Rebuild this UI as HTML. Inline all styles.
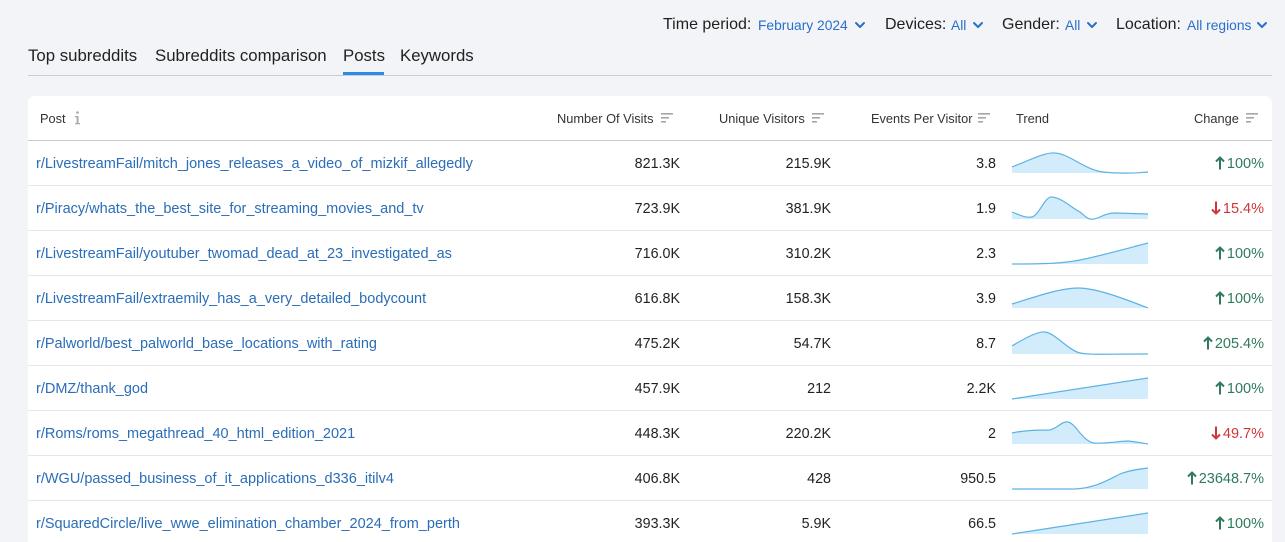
<!DOCTYPE html>
<html><head><meta charset="utf-8">
<style>
*{margin:0;padding:0;box-sizing:border-box}
html,body{width:1285px;height:542px;overflow:hidden;background:#f3f4f8;font-family:"Liberation Sans",Arial,sans-serif;color:#222;position:relative}
.a{position:absolute;white-space:nowrap}
.f{font-size:16px;color:#1f1f1f;top:16px}
.v{font-size:13.8px;color:#2a6fc9;top:18px}
.tab{font-size:16.8px;color:#222;top:46px}
.card{position:absolute;left:28px;top:96px;width:1244px;height:446px;background:#fff;border-radius:7px 7px 0 0}
.h{font-size:12.8px;color:#333;top:111px}
.sep{position:absolute;left:28px;width:1244px;height:1px;background:#e4e6ea}
.lk{font-size:14.5px;color:#2a6db8;left:36px}
.n{font-size:14.3px;color:#222;text-align:right}
.up{color:#2f7a5b;font-size:14.5px;text-align:right}
.dn{color:#d0353a;font-size:14.5px;text-align:right}
.up svg,.dn svg{display:inline-block;vertical-align:-2px;margin-right:2px}
</style></head><body>
<!-- filters -->
<div class="a f" style="left:663px">Time period:</div>
<div class="a v" style="left:758px">February 2024</div>
<div class="a f" style="left:885px">Devices:</div>
<div class="a v" style="left:951px">All</div>
<div class="a f" style="left:1002px">Gender:</div>
<div class="a v" style="left:1065px">All</div>
<div class="a f" style="left:1116px">Location:</div>
<div class="a v" style="left:1187px">All regions</div>
<svg class="a" style="left:0;top:0" width="1285" height="100">
<g fill="none" stroke="#2a6fc9" stroke-width="2" stroke-linecap="round" stroke-linejoin="round">
<path d="M856 23 L860 27 L864 23"/>
<path d="M974 23 L978 27 L982 23"/>
<path d="M1088 23 L1092 27 L1096 23"/>
<path d="M1258 23 L1262 27 L1266 23"/>
</g>
<rect x="28" y="75" width="1244" height="1" fill="#c9ccd4"/>
<rect x="343" y="72" width="41" height="3" fill="#2b8ae2"/>
</svg>
<div class="a tab" style="left:28px">Top subreddits</div>
<div class="a tab" style="left:155px">Subreddits comparison</div>
<div class="a tab" style="left:343px">Posts</div>
<div class="a tab" style="left:400px">Keywords</div>

<div class="card"></div>
<div class="a h" style="left:40px">Post</div>
<svg class="a" style="left:72px;top:110px" width="10" height="16">
<g fill="#a8a8a8"><circle cx="5.5" cy="2.5" r="1.3"/><path d="M3 6 L6.5 6 L6.5 13 L8 13 L8 14.3 L3 14.3 L3 13 L4.6 13 L4.6 7.3 L3 7.3 Z"/></g>
</svg>
<div class="a h" style="left:557px">Number Of Visits</div>
<div class="a h" style="left:719px">Unique Visitors</div>
<div class="a h" style="left:871px">Events Per Visitor</div>
<div class="a h" style="left:1016px">Trend</div>
<div class="a h" style="left:1194px">Change</div>
<div class="sep" style="top:140px;background:#c6c8cc"></div>
<div class="sep" style="top:185px"></div>
<div class="sep" style="top:230px"></div>
<div class="sep" style="top:275px"></div>
<div class="sep" style="top:320px"></div>
<div class="sep" style="top:365px"></div>
<div class="sep" style="top:410px"></div>
<div class="sep" style="top:455px"></div>
<div class="sep" style="top:500px"></div>

<svg class="a" style="left:0;top:0" width="1285" height="542">
<g fill="#a6a6a6">
<rect x="661" y="113" width="12" height="1.6"/><rect x="661" y="117" width="8" height="1.6"/><rect x="661" y="121" width="5" height="1.6"/>
<rect x="812" y="113" width="12" height="1.6"/><rect x="812" y="117" width="8" height="1.6"/><rect x="812" y="121" width="5" height="1.6"/>
<rect x="978" y="113" width="12" height="1.6"/><rect x="978" y="117" width="8" height="1.6"/><rect x="978" y="121" width="5" height="1.6"/>
<rect x="1246" y="113" width="12" height="1.6"/><rect x="1246" y="117" width="8" height="1.6"/><rect x="1246" y="121" width="5" height="1.6"/>
</g>
<g fill="#d3ecfb" stroke="none">
<path d="M1012,167 C1030,160 1045,152 1055,153 C1070,154 1085,170 1103,172 C1120,174 1135,173 1148,172 L1148,173 L1012,173 Z"/>
<path d="M1012,212 C1020,215 1025,218 1032,217 C1040,214 1045,196 1052,197 C1062,198 1072,208 1080,212 C1086,217 1088,220 1094,219 C1100,218 1105,213 1115,213 L1148,214 L1148,219 L1012,219 Z"/>
<path d="M1012,264 C1050,264 1065,263 1080,260 C1100,256 1125,249 1148,243 L1148,264 L1012,264 Z"/>
<path d="M1012,304 C1035,297 1060,288 1078,288 C1095,288 1120,297 1148,308 L1012,308 Z"/>
<path d="M1012,346 C1025,338 1038,331 1045,332 C1055,333 1068,350 1080,353 C1090,355 1100,354 1148,354 L1012,354 Z"/>
<path d="M1012,399 L1148,378 L1148,399 Z"/>
<path d="M1012,433 C1025,430 1040,430 1050,430 C1058,428 1062,421 1068,422 C1075,423 1082,440 1093,443 C1105,444 1120,441 1128,441 C1138,442 1143,443 1148,444 L1012,444 Z"/>
<path d="M1012,489 L1075,489 C1095,488 1108,480 1120,474 C1130,470 1140,469 1148,468 L1148,489 L1012,489 Z"/>
<path d="M1012,534 L1148,513 L1148,534 Z"/>
</g>
<g fill="none" stroke="#5bb3e4" stroke-width="1.2">
<path d="M1012,167 C1030,160 1045,152 1055,153 C1070,154 1085,170 1103,172 C1120,174 1135,173 1148,172"/>
<path d="M1012,212 C1020,215 1025,218 1032,217 C1040,214 1045,196 1052,197 C1062,198 1072,208 1080,212 C1086,217 1088,220 1094,219 C1100,218 1105,213 1115,213 L1148,214"/>
<path d="M1012,264 C1050,264 1065,263 1080,260 C1100,256 1125,249 1148,243"/>
<path d="M1012,304 C1035,297 1060,288 1078,288 C1095,288 1120,297 1148,308"/>
<path d="M1012,346 C1025,338 1038,331 1045,332 C1055,333 1068,350 1080,353 C1090,355 1100,354 1148,354"/>
<path d="M1012,399 L1148,378"/>
<path d="M1012,433 C1025,430 1040,430 1050,430 C1058,428 1062,421 1068,422 C1075,423 1082,440 1093,443 C1105,444 1120,441 1128,441 C1138,442 1143,443 1148,444"/>
<path d="M1012,489 L1075,489 C1095,488 1108,480 1120,474 C1130,470 1140,469 1148,468"/>
<path d="M1012,534 L1148,513"/>
</g>
</svg>

<!-- rows -->
<div class="a lk" style="top:156px">r/LivestreamFail/mitch_jones_releases_a_video_of_mizkif_allegedly</div>
<div class="a n" style="top:156px;left:560px;width:120px">821.3K</div>
<div class="a n" style="top:156px;left:711px;width:120px">215.9K</div>
<div class="a n" style="top:156px;left:876px;width:120px">3.8</div>
<div class="a up" style="top:156px;left:1134px;width:130px"><svg width="10" height="14" viewBox="0 0 10 14"><path d="M5 13.5 V1.5 M1 5.5 L5 1.5 L9 5.5" fill="none" stroke="#2f7a5b" stroke-width="2"/></svg>100%</div>

<div class="a lk" style="top:201px">r/Piracy/whats_the_best_site_for_streaming_movies_and_tv</div>
<div class="a n" style="top:201px;left:560px;width:120px">723.9K</div>
<div class="a n" style="top:201px;left:711px;width:120px">381.9K</div>
<div class="a n" style="top:201px;left:876px;width:120px">1.9</div>
<div class="a dn" style="top:201px;left:1134px;width:130px"><svg width="10" height="14" viewBox="0 0 10 14"><path d="M5 0.5 V12.5 M1 8.5 L5 12.5 L9 8.5" fill="none" stroke="#d0353a" stroke-width="2"/></svg>15.4%</div>

<div class="a lk" style="top:246px">r/LivestreamFail/youtuber_twomad_dead_at_23_investigated_as</div>
<div class="a n" style="top:246px;left:560px;width:120px">716.0K</div>
<div class="a n" style="top:246px;left:711px;width:120px">310.2K</div>
<div class="a n" style="top:246px;left:876px;width:120px">2.3</div>
<div class="a up" style="top:246px;left:1134px;width:130px"><svg width="10" height="14" viewBox="0 0 10 14"><path d="M5 13.5 V1.5 M1 5.5 L5 1.5 L9 5.5" fill="none" stroke="#2f7a5b" stroke-width="2"/></svg>100%</div>

<div class="a lk" style="top:291px">r/LivestreamFail/extraemily_has_a_very_detailed_bodycount</div>
<div class="a n" style="top:291px;left:560px;width:120px">616.8K</div>
<div class="a n" style="top:291px;left:711px;width:120px">158.3K</div>
<div class="a n" style="top:291px;left:876px;width:120px">3.9</div>
<div class="a up" style="top:291px;left:1134px;width:130px"><svg width="10" height="14" viewBox="0 0 10 14"><path d="M5 13.5 V1.5 M1 5.5 L5 1.5 L9 5.5" fill="none" stroke="#2f7a5b" stroke-width="2"/></svg>100%</div>

<div class="a lk" style="top:336px">r/Palworld/best_palworld_base_locations_with_rating</div>
<div class="a n" style="top:336px;left:560px;width:120px">475.2K</div>
<div class="a n" style="top:336px;left:711px;width:120px">54.7K</div>
<div class="a n" style="top:336px;left:876px;width:120px">8.7</div>
<div class="a up" style="top:336px;left:1134px;width:130px"><svg width="10" height="14" viewBox="0 0 10 14"><path d="M5 13.5 V1.5 M1 5.5 L5 1.5 L9 5.5" fill="none" stroke="#2f7a5b" stroke-width="2"/></svg>205.4%</div>

<div class="a lk" style="top:381px">r/DMZ/thank_god</div>
<div class="a n" style="top:381px;left:560px;width:120px">457.9K</div>
<div class="a n" style="top:381px;left:711px;width:120px">212</div>
<div class="a n" style="top:381px;left:876px;width:120px">2.2K</div>
<div class="a up" style="top:381px;left:1134px;width:130px"><svg width="10" height="14" viewBox="0 0 10 14"><path d="M5 13.5 V1.5 M1 5.5 L5 1.5 L9 5.5" fill="none" stroke="#2f7a5b" stroke-width="2"/></svg>100%</div>

<div class="a lk" style="top:426px">r/Roms/roms_megathread_40_html_edition_2021</div>
<div class="a n" style="top:426px;left:560px;width:120px">448.3K</div>
<div class="a n" style="top:426px;left:711px;width:120px">220.2K</div>
<div class="a n" style="top:426px;left:876px;width:120px">2</div>
<div class="a dn" style="top:426px;left:1134px;width:130px"><svg width="10" height="14" viewBox="0 0 10 14"><path d="M5 0.5 V12.5 M1 8.5 L5 12.5 L9 8.5" fill="none" stroke="#d0353a" stroke-width="2"/></svg>49.7%</div>

<div class="a lk" style="top:471px">r/WGU/passed_business_of_it_applications_d336_itilv4</div>
<div class="a n" style="top:471px;left:560px;width:120px">406.8K</div>
<div class="a n" style="top:471px;left:711px;width:120px">428</div>
<div class="a n" style="top:471px;left:876px;width:120px">950.5</div>
<div class="a up" style="top:471px;left:1134px;width:130px"><svg width="10" height="14" viewBox="0 0 10 14"><path d="M5 13.5 V1.5 M1 5.5 L5 1.5 L9 5.5" fill="none" stroke="#2f7a5b" stroke-width="2"/></svg>23648.7%</div>

<div class="a lk" style="top:516px">r/SquaredCircle/live_wwe_elimination_chamber_2024_from_perth</div>
<div class="a n" style="top:516px;left:560px;width:120px">393.3K</div>
<div class="a n" style="top:516px;left:711px;width:120px">5.9K</div>
<div class="a n" style="top:516px;left:876px;width:120px">66.5</div>
<div class="a up" style="top:516px;left:1134px;width:130px"><svg width="10" height="14" viewBox="0 0 10 14"><path d="M5 13.5 V1.5 M1 5.5 L5 1.5 L9 5.5" fill="none" stroke="#2f7a5b" stroke-width="2"/></svg>100%</div>
</body></html>
